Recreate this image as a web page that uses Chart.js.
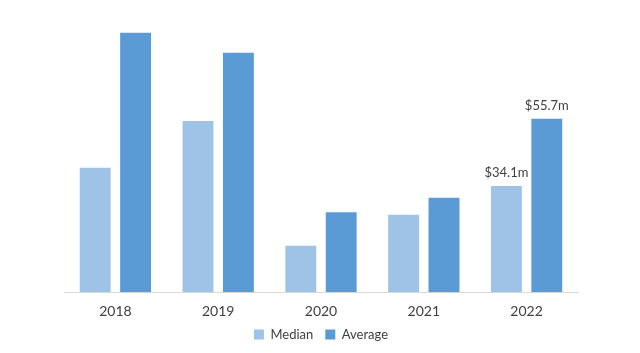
<!DOCTYPE html>
<html>
<head>
<meta charset="utf-8">
<script src="https://cdn.jsdelivr.net/npm/chart.js@4.4.1/dist/chart.umd.min.js"></script>
<style>
  html, body { margin: 0; padding: 0; background: #fff; }
  #wrap { width: 640px; height: 353px; }
</style>
</head>
<body>
<div id="wrap"><canvas id="myChart"></canvas></div>
<script>
// Values in $ millions
const years = ['2018', '2019', '2020', '2021', '2022'];
const median_values = [40.0, 55.0, 14.9, 24.9, 34.1];
const average_values = [83.3, 76.9, 25.7, 30.3, 55.7];
// only the last year gets a value label
const labelled_index = 4;

// draw "$xx.xm" above the labelled bars
const valueLabels = {
    id: 'valueLabels',
    afterDatasetsDraw(chart) {
        const ctx = chart.ctx;
        ctx.save();
        ctx.font = '13px Lato';
        ctx.fillStyle = '#404040';
        ctx.textAlign = 'center';
        ctx.textBaseline = 'alphabetic';
        chart.data.datasets.forEach(function(ds, i) {
            const bar = chart.getDatasetMeta(i).data[labelled_index];
            ctx.fillText('$' + ds.data[labelled_index].toFixed(1) + 'm', bar.x, bar.y - 9);
        });
        ctx.restore();
    }
};

var ctx = document.getElementById('myChart').getContext('2d');
var chart = new Chart(ctx, {
    type: 'bar',
    data: {
        labels: years,
        datasets: [
            {
                label: 'Median',
                data: median_values,
                backgroundColor: '#9fc3e7',
                categoryPercentage: 0.786,
                barPercentage: 0.765
            },
            {
                label: 'Average',
                data: average_values,
                backgroundColor: '#5b9bd5',
                categoryPercentage: 0.786,
                barPercentage: 0.765
            }
        ]
    },
    options: {
        responsive: true,
        maintainAspectRatio: false,
        animation: false,
        layout: { padding: { left: 64, right: 62, top: 12, bottom: 11 } },
        plugins: {
            legend: {
                position: 'bottom',
                // the big padding spreads the items apart, maxHeight keeps the legend short
                maxHeight: 26,
                labels: {
                    boxWidth: 10,
                    boxHeight: 10,
                    padding: 12,
                    color: '#404040',
                    font: { family: 'Lato', size: 13 }
                }
            },
            tooltip: { enabled: false }
        },
        scales: {
            x: {
                grid: { display: false },
                border: { color: '#d9d9d9', width: 1 },
                ticks: {
                    color: '#404040',
                    padding: 3,
                    font: { family: 'Lato', size: 14 }
                },
                // trim the empty space under the year labels
                afterFit: function(scale) {
                    scale.height -= 7;
                }
            },
            y: {
                display: false,
                min: 0,
                max: 90
            }
        }
    },
    plugins: [valueLabels]
});
</script>
</body>
</html>
